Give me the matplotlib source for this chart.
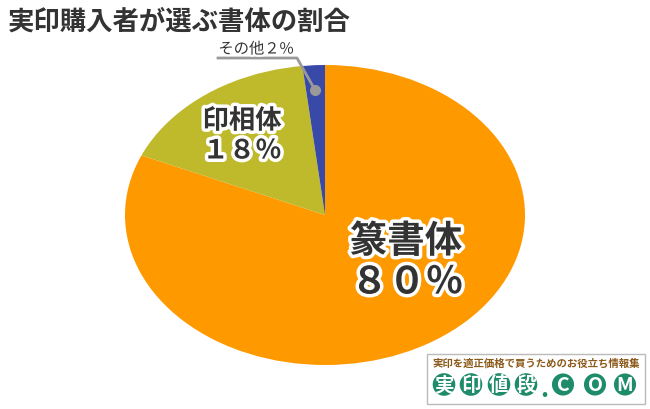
import matplotlib
matplotlib.use("Agg")
import matplotlib.pyplot as plt
import matplotlib.patheffects as pe
from matplotlib.patches import Rectangle, Ellipse

plt.rcParams['font.family'] = ['Noto Sans CJK JP', 'DejaVu Sans']

categories = ['篆書体', '印相体', 'その他']
values = [80, 17.6, 2.4]
pct_labels = ['８０％', '１８％', '２%']
colors = ['#FF9900', '#BFBA2B', '#3949A8']

fig = plt.figure(figsize=(6.5, 4.1), dpi=100)
fig.patch.set_facecolor('white')
# axes in pixel-like units: 400 x 300 px
ax = fig.add_axes([125/650, 44/410, 400/650, 300/410])
wedges, _ = ax.pie(values, colors=colors, startangle=90, counterclock=False,
                   radius=260, center=(0, 0), wedgeprops=dict(linewidth=0))
ax.set_xlim(-200, 200)
ax.set_ylim(-150, 150)
ax.set_aspect('auto')
ax.axis('off')
clip = Ellipse((0, 0), 400, 300, transform=ax.transData)
for w in wedges:
    w.set_clip_on(True)
    w.set_clip_path(clip)

outline = [pe.withStroke(linewidth=5, foreground='white')]
ax.text(81, -26, categories[0], ha='center', va='center', fontsize=27,
        color='#333333', fontweight='bold', path_effects=outline)
ax.text(82, -67, pct_labels[0], ha='center', va='center', fontsize=27,
        color='#333333', fontweight='bold', path_effects=outline)
ax.text(-83, 94, categories[1], ha='center', va='center', fontsize=19,
        color='#333333', fontweight='bold', path_effects=outline)
ax.text(-83, 64, pct_labels[1], ha='center', va='center', fontsize=19,
        color='#333333', fontweight='bold', path_effects=outline)

# leader for small slice
ax.plot([-10, -28, -107], [125, 157, 157], color='#999999', lw=2, clip_on=False)
ax.plot([-10], [125], 'o', color='#999999', ms=7, clip_on=False)
ax.text(-69, 166, categories[2] + pct_labels[2], ha='center', va='center',
        fontsize=11, color='#333333',
        path_effects=[pe.withStroke(linewidth=3, foreground='white')])

fig.text(8/650, 1 - 22/410, '実印購入者が選ぶ書体の割合', ha='left', va='center',
         fontsize=19, fontweight='bold', color='#333333')

# logo box
lx, ly, lw, lh = 427/650, 5/410, 218/650, 50/410
fig.patches.append(Rectangle((lx, ly), lw, lh, transform=fig.transFigure,
                             facecolor='white', edgecolor='#bbbbbb', lw=1))
fig.text(536/650, 47/410, '実印を適正価格で買うためのお役立ち情報集',
         ha='center', va='center', fontsize=7.5, color='#8B5A1A', fontweight='bold')
logo_chars = ['実', '印', '値', '段', '.', 'C', 'O', 'M']
xs = [444, 471, 499, 526, 544, 563, 595, 625]
for ch, x in zip(logo_chars, xs):
    if ch == '.':
        fig.text(x/650, 20/410, ch, ha='center', va='center', fontsize=18,
                 color='#1E8C6A', fontweight='bold')
        continue
    fig.text(x/650, 24.5/410, ch, ha='center', va='center', fontsize=14,
             color='white', fontweight='bold',
             bbox=dict(boxstyle='circle,pad=0.08', facecolor='#1E8C6A', edgecolor='none'))

fig.savefig('out.png', dpi=100, facecolor='white')
